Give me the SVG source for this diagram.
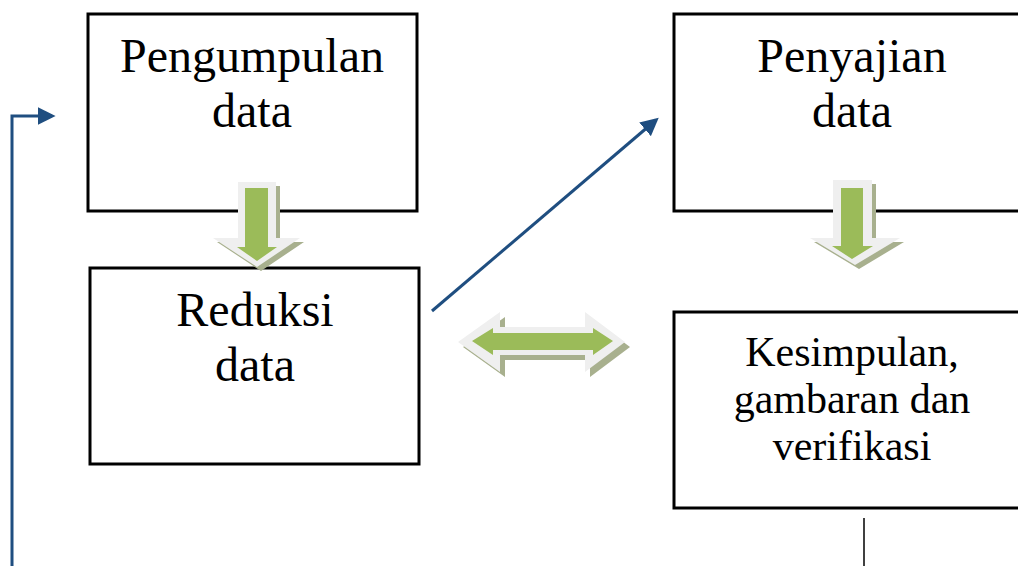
<svg xmlns="http://www.w3.org/2000/svg" width="1018" height="566" viewBox="0 0 1018 566">
<defs>
<style>
.box{fill:#fff;stroke:#000;stroke-width:3}
.t{font-family:"Liberation Serif","Times New Roman",serif;fill:#000;text-anchor:middle}
.big{font-size:48px}
.small{font-size:42px}
.outer{fill:#efefef}
.shadow{fill:#a8b08e}
.green{fill:#9bbb59}
.conn{fill:none;stroke:#1f4e80;stroke-width:3}
</style>
<marker id="ah" viewBox="0 0 10 10" refX="8" refY="5" markerWidth="6" markerHeight="6" orient="auto" markerUnits="strokeWidth">
<path d="M0,0 L10,5 L0,10 Z" fill="#1f4e80"/>
</marker>
</defs>
<rect width="1018" height="566" fill="#fff"/>
<g id="node-pengumpulan">
<rect class="box" x="88" y="14" width="329" height="197"/>
<text class="t big" x="252" y="72">Pengumpulan</text>
<text class="t big" x="252" y="127">data</text>
</g>
<g id="node-reduksi">
<rect class="box" x="90" y="268" width="329" height="196"/>
<text class="t big" x="255" y="326">Reduksi</text>
<text class="t big" x="255" y="381">data</text>
</g>
<g id="node-penyajian">
<rect class="box" x="674" y="14" width="360" height="197"/>
<text class="t big" x="852" y="72">Penyajian</text>
<text class="t big" x="852" y="127">data</text>
</g>
<g id="node-kesimpulan">
<rect class="box" x="674" y="312" width="360" height="196"/>
<text class="t small" x="852" y="366">Kesimpulan,</text>
<text class="t small" x="852" y="413">gambaran dan</text>
<text class="t small" x="852" y="460">verifikasi</text>
</g>
<g id="arrow-down-1">
<path class="shadow" d="M242,186 L280,186 L280,242 L304,242 L261,271 L217,242 L242,242 Z"/>
<path class="outer" d="M238,182 L276,182 L276,238 L300,238 L257,267 L213,238 L238,238 Z"/>
<path class="green" d="M245,188 L268,188 L268,247 L277,247 L257,261 L237,247 L245,247 Z"/>
</g>
<g id="arrow-down-2">
<path class="shadow" d="M837,184 L876,184 L876,242 L904,242 L859,269 L814,242 L837,242 Z"/>
<path class="outer" d="M833,180 L872,180 L872,238 L900,238 L855,265 L810,238 L833,238 Z"/>
<path class="green" d="M841,188 L863,188 L863,246 L873,246 L852,259 L832,246 L841,246 Z"/>
</g>
<g id="arrow-double">
<path class="shadow" d="M463,347 L505,317 L505,332 L590,332 L590,317 L630,347 L590,377 L590,360 L505,360 L505,377 Z"/>
<path class="outer" d="M458,342 L500,312 L500,327 L585,327 L585,312 L625,342 L585,372 L585,355 L500,355 L500,372 Z"/>
<path class="green" d="M472,341 L493,328 L493,333 L593,333 L593,328 L613,341 L593,355 L593,350 L493,350 L493,355 Z"/>
</g>
<g id="connectors">
<path class="conn" d="M12,566 L12,116 L52,116" marker-end="url(#ah)"/>
<path class="conn" d="M432,311 L656,120" marker-end="url(#ah)"/>
<line x1="864" y1="518" x2="864" y2="566" stroke="#000" stroke-width="1.5"/>
</g>
</svg>
